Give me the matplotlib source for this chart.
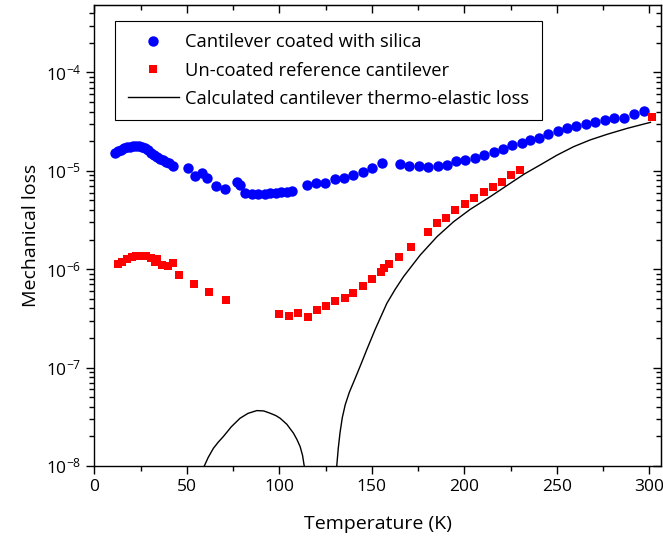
import math
import matplotlib
matplotlib.use("Agg")
import matplotlib.pyplot as plt
from matplotlib.ticker import LogLocator, MultipleLocator, NullFormatter, FuncFormatter

plt.rcParams['font.family'] = ['Open Sans', 'DejaVu Sans']
plt.rcParams['mathtext.fontset'] = 'custom'
plt.rcParams['mathtext.rm'] = 'Open Sans'
plt.rcParams['mathtext.default'] = 'regular'

# coated cantilever (blue circles)
coated_T = [11.1, 12.7, 14.3, 16.0, 17.6, 19.2, 20.8, 22.5, 24.1, 25.7, 27.3, 29.0, 30.6,
            32.2, 33.8, 35.4, 37.1, 38.7, 40.3, 42.5, 50.8, 54.4, 58.0, 61.0, 65.7, 70.6,
            76.9, 78.7, 81.5, 85.0, 88.5, 92.0, 95.0, 98.0, 101.0, 104.0, 107.0,
            114.8, 119.9, 124.9, 129.8, 135.0, 140.0, 145.1, 150.2, 155.2,
            165.3, 170.3, 175.4, 180.5, 185.5, 190.6, 195.6, 200.6, 205.7, 210.8, 215.8,
            220.9, 225.9, 230.9, 235.7, 240.4, 245.4, 250.4, 255.5, 260.6, 265.6, 270.7,
            276.1, 281.1, 286.5, 291.9, 297.0]
coated_loss = [1.50e-5, 1.59e-5, 1.64e-5, 1.69e-5, 1.73e-5, 1.75e-5, 1.77e-5, 1.77e-5,
               1.77e-5, 1.75e-5, 1.69e-5, 1.61e-5, 1.52e-5, 1.45e-5, 1.38e-5, 1.33e-5,
               1.29e-5, 1.24e-5, 1.20e-5, 1.13e-5, 1.06e-5, 8.9e-6, 9.4e-6, 8.4e-6, 7.0e-6,
               6.6e-6, 7.7e-6, 7.2e-6, 5.9e-6, 5.8e-6, 5.8e-6, 5.85e-6, 5.9e-6, 5.95e-6,
               6.05e-6, 6.15e-6, 6.3e-6,
               7.1e-6, 7.5e-6, 7.6e-6, 8.3e-6, 8.5e-6, 9.1e-6, 9.8e-6, 1.07e-5, 1.19e-5,
               1.17e-5, 1.13e-5, 1.11e-5, 1.10e-5, 1.13e-5, 1.14e-5, 1.25e-5, 1.29e-5,
               1.34e-5, 1.45e-5, 1.54e-5, 1.67e-5, 1.83e-5, 1.93e-5, 2.06e-5, 2.17e-5,
               2.38e-5, 2.54e-5, 2.70e-5, 2.83e-5, 2.97e-5, 3.11e-5, 3.31e-5, 3.47e-5,
               3.47e-5, 3.80e-5, 4.05e-5]

# uncoated reference cantilever (red squares)
ref_T = [12.9, 14.9, 17.4, 20.1, 22.5, 24.6, 27.9, 30.4, 32.7, 33.7, 36.4, 39.9, 42.6,
         45.7, 54.0, 62.0, 70.9, 100.0, 105.1, 110.1, 115.2, 120.2, 125.1, 130.3, 135.2,
         140.0, 145.3, 150.3, 155.0, 156.7, 159.0, 164.4, 171.4, 180.3, 185.2, 190.2,
         195.2, 200.2, 205.4, 210.4, 215.4, 220.2, 225.3, 230.2, 301.4]
ref_loss = [1.13e-6, 1.18e-6, 1.26e-6, 1.33e-6, 1.35e-6, 1.35e-6, 1.37e-6, 1.29e-6, 1.19e-6,
            1.27e-6, 1.10e-6, 1.08e-6, 1.15e-6, 8.7e-7, 7.1e-7, 5.9e-7, 4.9e-7, 3.51e-7,
            3.38e-7, 3.56e-7, 3.28e-7, 3.85e-7, 4.23e-7, 4.75e-7, 5.09e-7, 5.69e-7, 6.75e-7,
            7.95e-7, 9.3e-7, 1.02e-6, 1.12e-6, 1.32e-6, 1.69e-6, 2.41e-6, 2.95e-6, 3.35e-6,
            4.04e-6, 4.65e-6, 5.33e-6, 6.09e-6, 6.80e-6, 7.78e-6, 8.96e-6, 1.03e-5, 3.51e-5]

# calculated thermo-elastic loss (two visible branches)
te_T1 = [59.4, 61.5, 64.3, 67.0, 69.7, 74.0, 78.7, 83.0, 87.8, 91.5, 95.0, 98.0, 100.4,
         104.0, 107.6, 109.5, 111.2, 112.5, 113.4]
te_loss1 = [1.0e-8, 1.22e-8, 1.51e-8, 1.75e-8, 1.99e-8, 2.5e-8, 3.05e-8, 3.42e-8, 3.65e-8,
            3.62e-8, 3.43e-8, 3.25e-8, 3.05e-8, 2.65e-8, 2.15e-8, 1.85e-8, 1.57e-8,
            1.28e-8, 1.0e-8]
te_T2 = [131.0, 131.8, 132.8, 134.0, 135.6, 137.8, 141.0, 144.0, 147.3, 151.8, 158.1, 162.5,
         167.1, 176.1, 185.2, 194.2, 203.2, 214.0, 224.8, 232.5, 241.1, 250.0, 259.1, 268.0,
         277.2, 288.0, 300.6]
te_loss2 = [1.0e-8, 1.5e-8, 2.2e-8, 3.1e-8, 4.2e-8, 5.6e-8, 7.8e-8, 1.07e-7, 1.53e-7, 2.45e-7,
            4.5e-7, 6.2e-7, 8.4e-7, 1.39e-6, 2.14e-6, 3.04e-6, 4.06e-6, 5.46e-6, 7.46e-6,
            9.3e-6, 1.15e-5, 1.44e-5, 1.76e-5, 2.06e-5, 2.35e-5, 2.7e-5, 3.11e-5]

fig = plt.figure(figsize=(6.63, 5.43), dpi=100)
ax = fig.add_axes([0.1425, 0.142, 0.855, 0.848])

ax.plot(coated_T, coated_loss, "o", color="#0000ff", markersize=7.5, markeredgewidth=0,
        label="Cantilever coated with silica")
ax.plot(ref_T, ref_loss, "s", color="#ff0000", markersize=6, markeredgewidth=0,
        label="Un-coated reference cantilever")
ax.plot(te_T1, te_loss1, "-", color="black", linewidth=1,
        label="Calculated cantilever thermo-elastic loss")
ax.plot(te_T2, te_loss2, "-", color="black", linewidth=1)

ax.set_yscale("log")
ax.set_xlim(0, 306.5)
ax.set_ylim(1e-8, 4.8e-4)

ax.xaxis.set_major_locator(MultipleLocator(50))
ax.xaxis.set_minor_locator(MultipleLocator(25))
ax.yaxis.set_major_locator(LogLocator(base=10))
ax.yaxis.set_minor_locator(LogLocator(base=10, subs=range(2, 10)))
ax.yaxis.set_minor_formatter(NullFormatter())
ax.yaxis.set_major_formatter(FuncFormatter(lambda v, p: "10$^{%d}$" % round(math.log10(v))))

ax.tick_params(which="both", direction="out", labelsize=12.5, width=1)
ax.tick_params(which="major", length=6)
ax.tick_params(which="minor", length=3.5)
for spine in ax.spines.values():
    spine.set_linewidth(1)

# inward ticks on the top and right edges
top = ax.secondary_xaxis("top")
top.xaxis.set_major_locator(MultipleLocator(50))
top.xaxis.set_minor_locator(MultipleLocator(25))
top.tick_params(which="both", direction="in", labeltop=False, width=1)
top.tick_params(which="major", length=6)
top.tick_params(which="minor", length=3.5)
right = ax.secondary_yaxis("right")
right.yaxis.set_major_locator(LogLocator(base=10))
right.yaxis.set_minor_locator(LogLocator(base=10, subs=range(2, 10)))
right.tick_params(which="both", direction="in", labelright=False, width=1)
right.tick_params(which="major", length=6)
right.tick_params(which="minor", length=3.5)

ax.set_xlabel("Temperature (K)", fontsize=14, labelpad=14)
ax.set_ylabel("Mechanical loss", fontsize=14, labelpad=4)

leg = ax.legend(loc="upper left", bbox_to_anchor=(0.036, 0.967), fontsize=13.2,
                fancybox=False, edgecolor="black", framealpha=1, borderpad=0.7,
                borderaxespad=0, handlelength=2.8, handletextpad=0.3, labelspacing=0.55)
leg.get_frame().set_linewidth(0.8)

fig.savefig("out.png", dpi=100)
